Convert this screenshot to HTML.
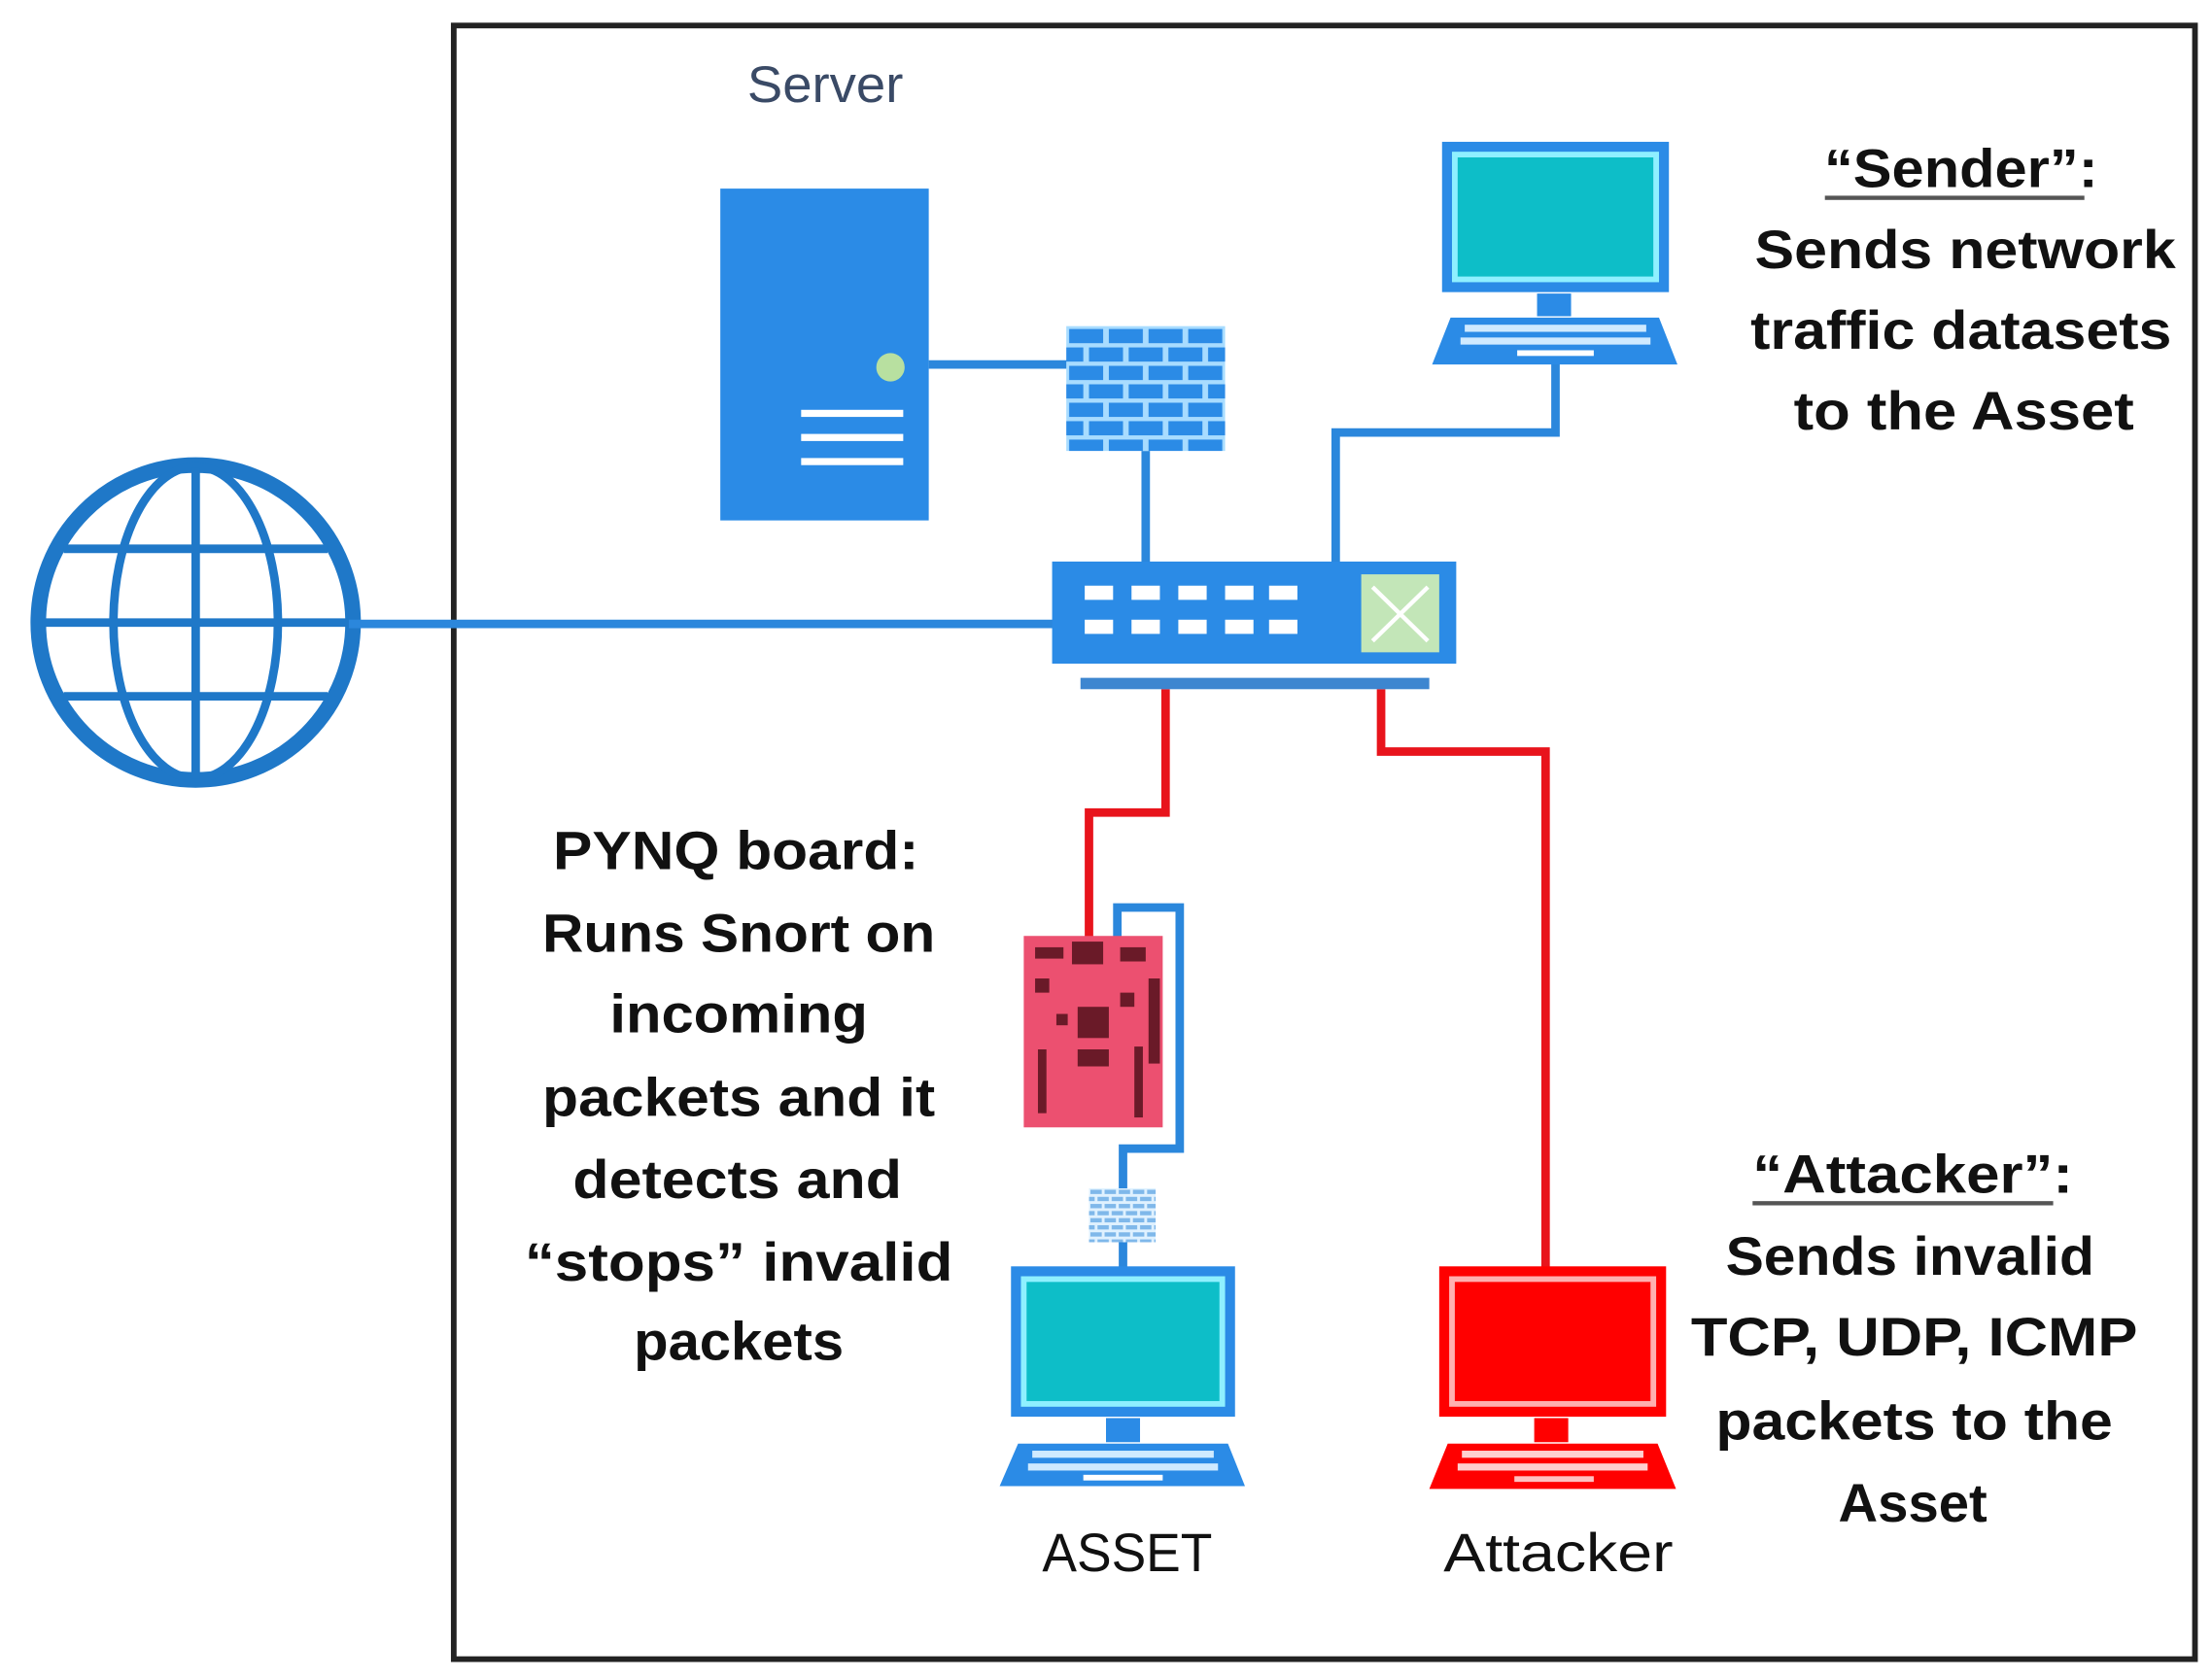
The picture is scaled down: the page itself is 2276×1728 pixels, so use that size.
<!DOCTYPE html>
<html><head><meta charset="utf-8"><style>
html,body{margin:0;padding:0;background:#fff;}
svg{display:block;}
.b{font-family:"Liberation Sans",sans-serif;font-weight:bold;font-size:38px;fill:#111;}
.n{font-family:"Liberation Sans",sans-serif;font-size:38px;fill:#111;}
</style></head><body>
<svg width="2276" height="1728" viewBox="0 0 1560 1184" preserveAspectRatio="none" xmlns="http://www.w3.org/2000/svg">
<defs>
<pattern id="brick" x="752" y="230" width="56" height="26" patternUnits="userSpaceOnUse">
<rect width="56" height="26" fill="#a8dcff"/>
<rect x="2" y="2" width="24" height="10" fill="#2b8be6"/>
<rect x="30" y="2" width="24" height="10" fill="#2b8be6"/>
<rect x="-12" y="15" width="24" height="10" fill="#2b8be6"/>
<rect x="16" y="15" width="24" height="10" fill="#2b8be6"/>
<rect x="44" y="15" width="24" height="10" fill="#2b8be6"/>
</pattern>
<pattern id="sbrick" x="768" y="838" width="20" height="10" patternUnits="userSpaceOnUse">
<rect width="20" height="10" fill="#dff1ff"/>
<rect x="1" y="1" width="8" height="3" fill="#7fb8ea"/>
<rect x="11" y="1" width="8" height="3" fill="#7fb8ea"/>
<rect x="-4" y="6" width="8" height="3" fill="#7fb8ea"/>
<rect x="6" y="6" width="8" height="3" fill="#7fb8ea"/>
<rect x="16" y="6" width="8" height="3" fill="#7fb8ea"/>
</pattern>
</defs>
<!-- outer box -->
<rect x="320" y="18" width="1228" height="1152" fill="none" stroke="#222" stroke-width="4"/>
<!-- globe -->
<g stroke="#1f78c8" fill="none">
<circle cx="138" cy="439" r="111" stroke-width="11"/>
<ellipse cx="138" cy="439" rx="58" ry="110" stroke-width="6"/>
<line x1="138" y1="330" x2="138" y2="549" stroke-width="6"/>
<line x1="30" y1="439" x2="246" y2="439" stroke-width="6"/>
<line x1="45" y1="387" x2="231" y2="387" stroke-width="6"/>
<line x1="45" y1="491" x2="231" y2="491" stroke-width="6"/>
</g>
<!-- blue links -->
<g stroke="#2b87dc" stroke-width="6" fill="none">
<line x1="246" y1="440" x2="744" y2="440"/>
<line x1="655" y1="257" x2="754" y2="257"/>
<line x1="808" y1="318" x2="808" y2="398"/>
<polyline points="1097,255 1097,305 942,305 942,398"/>
<polyline points="788,662 788,640 832,640 832,810 792,810 792,840"/>
<line x1="792" y1="876" x2="792" y2="895"/>
</g>
<!-- red links -->
<g stroke="#e8141c" stroke-width="6" fill="none">
<polyline points="822,486 822,573 768,573 768,662"/>
<polyline points="974,486 974,530 1090,530 1090,895"/>
</g>
<!-- server -->
<rect x="508" y="133" width="147" height="234" fill="#2b8be6"/>
<circle cx="628" cy="259" r="10" fill="#b8e0a0"/>
<rect x="565" y="289" width="72" height="5" fill="#fff"/>
<rect x="565" y="306" width="72" height="5" fill="#fff"/>
<rect x="565" y="323" width="72" height="5" fill="#fff"/>
<text x="582" y="72" text-anchor="middle" class="n" font-size="36" style="fill:#3a4a66;font-size:36px" textLength="110" lengthAdjust="spacingAndGlyphs">Server</text>
<!-- firewall -->
<rect x="752" y="230" width="112" height="88" fill="url(#brick)"/>
<!-- switch -->
<rect x="742" y="396" width="285" height="72" fill="#2b8be6"/>
<rect x="762" y="478" width="246" height="8" fill="#3d86d0"/>
<g fill="#fff">
<rect x="765" y="413" width="20" height="10"/><rect x="798" y="413" width="20" height="10"/><rect x="831" y="413" width="20" height="10"/><rect x="864" y="413" width="20" height="10"/><rect x="895" y="413" width="20" height="10"/>
<rect x="765" y="437" width="20" height="10"/><rect x="798" y="437" width="20" height="10"/><rect x="831" y="437" width="20" height="10"/><rect x="864" y="437" width="20" height="10"/><rect x="895" y="437" width="20" height="10"/>
</g>
<rect x="960" y="405" width="55" height="55" fill="#c3e6b8"/>
<path d="M968 414 L1007 452 M1007 414 L968 452" stroke="#fff" stroke-width="3"/>
<!-- laptop template -->
<g id="sender">
<rect x="1017" y="100" width="160" height="106" fill="#2b8be6"/>
<rect x="1024" y="107" width="146" height="92" fill="#8ff0ff"/>
<rect x="1028" y="111" width="138" height="84" fill="#0dbec8"/>
<rect x="1084" y="207" width="24" height="16" fill="#2b8be6"/>
<polygon points="1023,224 1170,224 1183,257 1010,257" fill="#2b8be6"/>
<rect x="1033" y="229" width="128" height="5" fill="#cfeaff"/>
<rect x="1030" y="238" width="134" height="5" fill="#cfeaff"/>
<rect x="1070" y="247" width="54" height="4" fill="#fff"/>
</g>
<!-- asset -->
<g>
<rect x="713" y="893" width="158" height="106" fill="#2b8be6"/>
<rect x="720" y="900" width="144" height="92" fill="#8ff0ff"/>
<rect x="724" y="904" width="136" height="84" fill="#0dbec8"/>
<rect x="780" y="1000" width="24" height="17" fill="#2b8be6"/>
<polygon points="718,1018 866,1018 878,1048 705,1048" fill="#2b8be6"/>
<rect x="728" y="1023" width="128" height="5" fill="#cfeaff"/>
<rect x="725" y="1032" width="134" height="5" fill="#cfeaff"/>
<rect x="764" y="1040" width="56" height="4" fill="#fff"/>
</g>
<!-- attacker -->
<g>
<rect x="1015" y="893" width="160" height="106" fill="#ff0000"/>
<rect x="1022" y="900" width="146" height="92" fill="#ffb0b0"/>
<rect x="1026" y="904" width="138" height="84" fill="#ff0000"/>
<rect x="1082" y="1000" width="24" height="17" fill="#ff0000"/>
<polygon points="1021,1018 1169,1018 1182,1050 1008,1050" fill="#ff0000"/>
<rect x="1031" y="1023" width="128" height="5" fill="#ffd0d0"/>
<rect x="1028" y="1032" width="134" height="5" fill="#ffd0d0"/>
<rect x="1068" y="1041" width="56" height="4" fill="#ffc0c0"/>
</g>
<!-- PYNQ board -->
<rect x="722" y="660" width="98" height="135" fill="#ec5070"/>
<g fill="#6a1a28">
<rect x="730" y="668" width="20" height="8"/><rect x="756" y="664" width="22" height="16"/><rect x="790" y="668" width="18" height="10"/>
<rect x="730" y="690" width="10" height="10"/><rect x="760" y="710" width="22" height="22"/><rect x="760" y="740" width="22" height="12"/>
<rect x="732" y="740" width="6" height="45"/><rect x="800" y="738" width="6" height="50"/><rect x="810" y="690" width="8" height="60"/>
<rect x="745" y="715" width="8" height="8"/><rect x="790" y="700" width="10" height="10"/>
</g>
<rect x="768" y="838" width="47" height="38" fill="url(#sbrick)"/>
<!-- labels -->
<text x="795" y="1108" text-anchor="middle" class="n" textLength="120" lengthAdjust="spacingAndGlyphs">ASSET</text>
<text x="1099" y="1108" text-anchor="middle" class="n" textLength="162" lengthAdjust="spacingAndGlyphs">Attacker</text>
<g class="b" text-anchor="middle">
<text x="1383" y="132" textLength="193" lengthAdjust="spacingAndGlyphs">“Sender”:</text>
<text x="1386" y="189" textLength="297" lengthAdjust="spacingAndGlyphs">Sends network</text>
<text x="1383" y="246" textLength="297" lengthAdjust="spacingAndGlyphs">traffic datasets</text>
<text x="1385" y="303" textLength="240" lengthAdjust="spacingAndGlyphs">to the Asset</text>
<text x="519" y="613" textLength="258" lengthAdjust="spacingAndGlyphs">PYNQ board:</text>
<text x="521" y="671" textLength="277" lengthAdjust="spacingAndGlyphs">Runs Snort on</text>
<text x="521" y="728" textLength="182" lengthAdjust="spacingAndGlyphs">incoming</text>
<text x="521" y="787" textLength="277" lengthAdjust="spacingAndGlyphs">packets and it</text>
<text x="520" y="845" textLength="232" lengthAdjust="spacingAndGlyphs">detects and</text>
<text x="521" y="903" textLength="302" lengthAdjust="spacingAndGlyphs">“stops”  invalid</text>
<text x="521" y="959" textLength="148" lengthAdjust="spacingAndGlyphs">packets</text>
<text x="1349" y="841" textLength="226" lengthAdjust="spacingAndGlyphs">“Attacker”:</text>
<text x="1347" y="899" textLength="260" lengthAdjust="spacingAndGlyphs">Sends invalid</text>
<text x="1350" y="956" textLength="315" lengthAdjust="spacingAndGlyphs">TCP, UDP, ICMP</text>
<text x="1350" y="1015" textLength="280" lengthAdjust="spacingAndGlyphs">packets to the</text>
<text x="1349" y="1073" textLength="105" lengthAdjust="spacingAndGlyphs">Asset</text>
</g>
<rect x="1287" y="138" width="183" height="3" fill="#555"/>
<rect x="1236" y="847" width="212" height="3" fill="#555"/>
</svg>
</body></html>
